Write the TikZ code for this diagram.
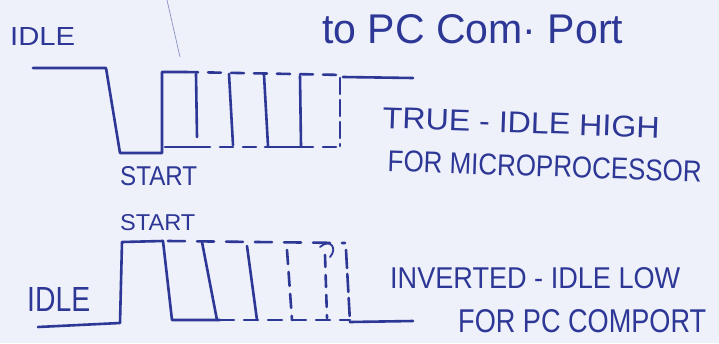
\documentclass[tikz,border=0pt]{standalone}
\usepackage{fontspec}
\setmainfont{Liberation Sans}
\usepackage{graphicx}
\definecolor{paper}{RGB}{238,240,250}
\definecolor{ink}{RGB}{45,55,150}
\newcommand{\fitbox}[3]{\resizebox{#1pt}{#2pt}{#3}}
\tikzset{
  pen/.style={draw=ink, line width=2.6pt, line join=round, line cap=round},
  dpen/.style={pen, dash pattern=on 13pt off 10pt},
  lbl/.style={inner sep=0pt, anchor=north west, text=ink}
}
\begin{document}
\begin{tikzpicture}[x=1pt,y=-1pt]
\fill[paper] (0,0) rectangle (719,343);
\useasboundingbox (0,0) rectangle (719,343);
\clip (0,0) rectangle (719,343);

% stray pen line
\draw[ink!55, line width=0.7pt] (167,0) -- (180,57);

% labels
\node[lbl] (idleA) at (10,27) {\fitbox{65}{18}{IDLE}};
\node[lbl] (title) at (322,14) {\fitbox{301}{29}{to PC Com\textperiodcentered{} Port}};
\node[lbl] (startA) at (120,166) {\fitbox{77}{19}{START}};
\node[lbl, rotate=-2] (trueL) at (383,107) {\fitbox{277}{21}{TRUE - IDLE HIGH}};
\node[lbl, rotate=-2] (microL) at (388,150) {\fitbox{314}{21}{FOR MICROPROCESSOR}};
\node[lbl] (startB) at (120,214) {\fitbox{75}{16}{START}};
\node[lbl] (idleB) at (27,287) {\fitbox{63}{24}{IDLE}};
\node[lbl] (invL) at (390,267) {\fitbox{290}{21}{INVERTED - IDLE LOW}};
\node[lbl] (pcL) at (458,309) {\fitbox{248}{23}{FOR PC COMPORT}};

% top waveform (true, idle high)
\draw[pen] (33,68) -- (106,68) -- (120,153) -- (162,153) -- (162,72) -- (185,72);
\draw[dpen] (185,72) -- (345,75);
\draw[pen] (165,147) -- (197,147);
\draw[dpen] (197,147) -- (265,147);
\draw[pen] (265,147) -- (300,147);
\draw[dpen] (300,147) -- (342,147);
\draw[pen] (196,74) -- (197,137);
\draw[pen] (229,74) -- (233,145);
\draw[pen] (264,75) -- (268,146);
\draw[pen] (300,76) -- (301,146);
\draw[pen, dash pattern=on 16pt off 6pt] (340,78) -- (340,146);
\draw[pen] (343,77) -- (413,78);

% bottom waveform (inverted, idle low)
\draw[pen] (38,327) -- (120,323) -- (122,242) -- (163,241);
\draw[pen] (163,241) -- (172,320) -- (220,320);
\draw[pen] (202,242) -- (217,320);
\draw[pen, dash pattern=on 17pt off 12pt] (168,241) -- (345,243);
\draw[pen] (247,246) -- (257,320);
\draw[pen, dash pattern=on 14pt off 8pt] (287,250) -- (292,320);
\draw[pen, dash pattern=on 12pt off 8pt] (325,255) -- (327,318);
\draw[pen, line width=1.8pt] (320,247) .. controls (330,238) and (338,248) .. (330,257);
\draw[pen, dash pattern=on 18pt off 6pt] (346,250) -- (350,322);
\draw[pen, dash pattern=on 14pt off 10pt] (220,320) -- (350,320);
\draw[pen] (350,322) -- (413,321);
\end{tikzpicture}
\end{document}
